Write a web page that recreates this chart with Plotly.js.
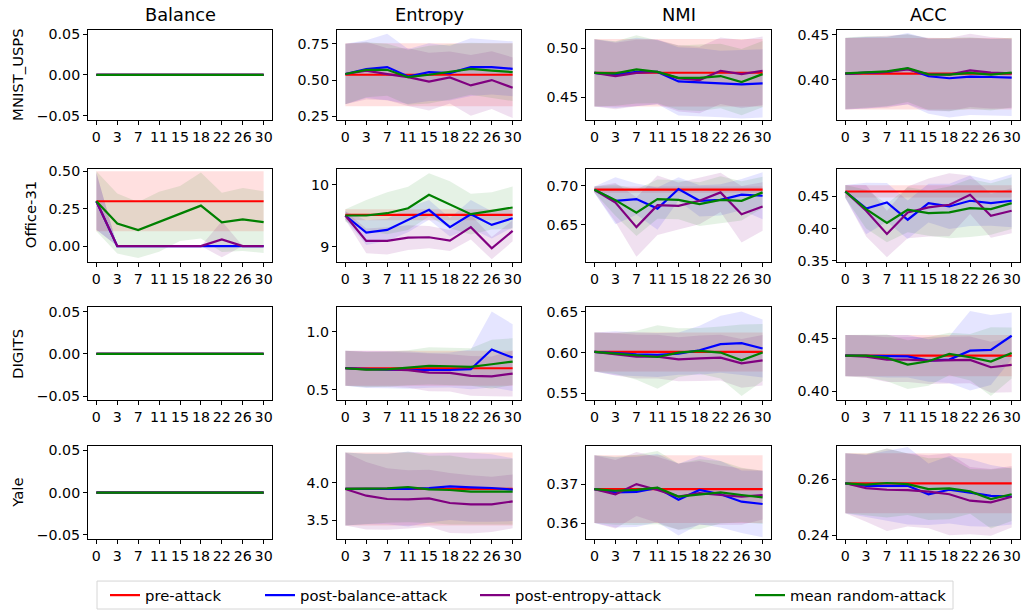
<!DOCTYPE html>
<html><head><meta charset="utf-8">
<script src="https://cdn.plot.ly/plotly-3.0.1.min.js"></script>
<style>html,body{margin:0;padding:0;background:#fff}#chart{width:1024px;height:612px}</style>
</head><body><div id="chart"></div>
<script>
// ---------------- data ----------------
const budgets = ['0','3','7','11','15','18','22','26','30'];
const datasets = ['MNIST_USPS','Office-31','DIGITS','Yale'];
const metrics = ['Balance','Entropy','NMI','ACC'];
const seriesNames = ['pre-attack','post-balance-attack','post-entropy-attack','mean random-attack'];
const seriesColors = ['red','blue','purple','green'];
const bandColors = ['rgba(255,0,0,0.12)','rgba(0,0,255,0.1)','rgba(128,0,128,0.12)','rgba(0,128,0,0.1)'];

// order of series in each array: [pre, balance-attack, entropy-attack, random]
const zeros9 = [0,0,0,0,0,0,0,0,0];

// MNIST_USPS
const MNIST_Balance_mean = [zeros9, zeros9, zeros9, zeros9];
const MNIST_Balance_std  = [zeros9, zeros9, zeros9, zeros9];
const MNIST_Entropy_mean = [
  [0.537,0.537,0.537,0.537,0.537,0.537,0.537,0.537,0.537],
  [0.542,0.576,0.59,0.525,0.555,0.548,0.59,0.59,0.578],
  [0.542,0.565,0.541,0.52,0.49,0.518,0.463,0.50,0.447],
  [0.542,0.571,0.571,0.52,0.537,0.555,0.578,0.565,0.555]];
const MNIST_Entropy_std = [
  [0.218,0.218,0.218,0.218,0.218,0.218,0.218,0.218,0.218],
  [0.21,0.20,0.23,0.19,0.20,0.19,0.20,0.19,0.19],
  [0.21,0.20,0.18,0.20,0.20,0.18,0.21,0.20,0.21],
  [0.21,0.19,0.18,0.19,0.20,0.19,0.18,0.19,0.20]];
const MNIST_NMI_mean = [
  [0.4752,0.4752,0.4752,0.4752,0.4752,0.4752,0.4752,0.4752,0.4752],
  [0.475,0.473,0.476,0.476,0.4663,0.4653,0.4636,0.4633,0.4643],
  [0.475,0.4718,0.475,0.476,0.4694,0.4677,0.4772,0.4738,0.4772],
  [0.475,0.4745,0.4786,0.476,0.470,0.470,0.4718,0.4656,0.4738]];
const MNIST_NMI_std = [
  [0.0345,0.0345,0.0345,0.0345,0.0345,0.0345,0.0345,0.0345,0.0345],
  [0.0345,0.034,0.035,0.033,0.035,0.035,0.034,0.035,0.035],
  [0.0345,0.034,0.034,0.033,0.034,0.034,0.034,0.035,0.035],
  [0.0345,0.033,0.035,0.032,0.033,0.034,0.033,0.034,0.034]];
const MNIST_ACC_mean = [
  [0.4066,0.4066,0.4066,0.4066,0.4066,0.4066,0.4066,0.4066,0.4066],
  [0.4066,0.4077,0.4085,0.4121,0.4037,0.4015,0.4033,0.4029,0.4022],
  [0.4066,0.4077,0.4085,0.4114,0.4059,0.4055,0.4103,0.4077,0.407],
  [0.407,0.4085,0.4092,0.4129,0.4059,0.4055,0.4074,0.4055,0.4077]];
const MNIST_ACC_std = [
  [0.040,0.040,0.040,0.040,0.040,0.040,0.040,0.040,0.040],
  [0.040,0.040,0.039,0.040,0.042,0.044,0.043,0.043,0.043],
  [0.040,0.040,0.040,0.039,0.041,0.041,0.041,0.040,0.039],
  [0.040,0.040,0.039,0.038,0.040,0.041,0.040,0.040,0.039]];

// Office-31
const Office_Balance_mean = [
  [0.299,0.299,0.299,0.299,0.299,0.299,0.299,0.299,0.299],
  [0.299,0,0,0,0,0,0,0,0],
  [0.299,0,0,0,0,0,0.045,0,0],
  [0.299,0.15,0.107,0.163,0.217,0.27,0.158,0.178,0.16]];
const Office_Balance_std = [
  [0.2,0.2,0.2,0.2,0.2,0.2,0.2,0.2,0.2],
  [0.19,0,0,0,0,0,0,0,0],
  [0.19,0,0,0,0,0,0.12,0,0],
  [0.2,0.2,0.187,0.2,0.183,0.22,0.197,0.21,0.206]];
const Office_Entropy_mean = [
  [9.514,9.514,9.514,9.514,9.514,9.514,9.514,9.514,9.514],
  [9.503,9.227,9.27,9.432,9.595,9.314,9.524,9.351,9.459],
  [9.503,9.092,9.092,9.146,9.151,9.097,9.314,8.973,9.254],
  [9.503,9.503,9.54,9.62,9.838,9.676,9.524,9.578,9.632]];
const Office_Entropy_std = [
  [0.09,0.09,0.09,0.09,0.09,0.09,0.09,0.09,0.09],
  [0.07,0.2,0.18,0.2,0.16,0.15,0.23,0.22,0.15],
  [0.07,0.2,0.22,0.2,0.18,0.17,0.2,0.18,0.17],
  [0.1,0.25,0.34,0.35,0.35,0.38,0.33,0.30,0.34]];
const Office_NMI_mean = [
  [0.6948,0.6948,0.6948,0.6948,0.6948,0.6948,0.6948,0.6948,0.6948],
  [0.6948,0.6806,0.6828,0.6707,0.6957,0.6806,0.6819,0.6884,0.6871],
  [0.6948,0.6784,0.647,0.675,0.6741,0.6806,0.6914,0.6634,0.6733],
  [0.6948,0.6815,0.6655,0.6828,0.6819,0.6763,0.6819,0.6806,0.6914]];
const Office_NMI_std = [
  [0.004,0.004,0.004,0.004,0.004,0.004,0.004,0.004,0.004],
  [0.004,0.03,0.02,0.027,0.015,0.02,0.02,0.02,0.03],
  [0.004,0.025,0.038,0.038,0.03,0.03,0.025,0.036,0.031],
  [0.004,0.02,0.03,0.025,0.025,0.028,0.03,0.025,0.02]];
const Office_ACC_mean = [
  [0.4577,0.4577,0.4577,0.4577,0.4577,0.4577,0.4577,0.4577,0.4577],
  [0.4577,0.4314,0.4407,0.4139,0.4397,0.4345,0.4433,0.4397,0.4433],
  [0.4577,0.4278,0.3918,0.4253,0.433,0.4371,0.4526,0.4201,0.4278],
  [0.4577,0.4304,0.4088,0.4294,0.4242,0.4253,0.432,0.4304,0.4397]];
const Office_ACC_std = [
  [0.0095,0.0095,0.0095,0.0095,0.0095,0.0095,0.0095,0.0095,0.0095],
  [0.01,0.04,0.03,0.03,0.03,0.035,0.039,0.035,0.041],
  [0.01,0.04,0.036,0.04,0.045,0.049,0.03,0.034,0.035],
  [0.01,0.03,0.03,0.035,0.035,0.04,0.045,0.04,0.04]];

// DIGITS
const DIGITS_Balance_mean = [zeros9, zeros9, zeros9, zeros9];
const DIGITS_Balance_std  = [zeros9, zeros9, zeros9, zeros9];
const DIGITS_Entropy_mean = [
  [0.686,0.686,0.686,0.686,0.686,0.686,0.686,0.686,0.686],
  [0.686,0.677,0.674,0.671,0.669,0.671,0.677,0.846,0.777],
  [0.686,0.677,0.677,0.669,0.649,0.646,0.62,0.617,0.64],
  [0.686,0.674,0.677,0.691,0.706,0.703,0.697,0.72,0.743]];
const DIGITS_Entropy_std = [
  [0.15,0.15,0.15,0.15,0.15,0.15,0.15,0.15,0.15],
  [0.15,0.16,0.16,0.16,0.15,0.15,0.17,0.325,0.286],
  [0.15,0.15,0.15,0.15,0.16,0.16,0.17,0.17,0.197],
  [0.15,0.15,0.15,0.15,0.16,0.16,0.16,0.21,0.2]];
const DIGITS_NMI_mean = [
  [0.6008,0.6008,0.6008,0.6008,0.6008,0.6008,0.6008,0.6008,0.6008],
  [0.6008,0.5992,0.5979,0.5971,0.5988,0.6029,0.6103,0.6116,0.605],
  [0.6008,0.5979,0.595,0.595,0.5917,0.593,0.5938,0.5868,0.5905],
  [0.6008,0.5988,0.5967,0.5946,0.60,0.6021,0.60,0.5905,0.60]];
const DIGITS_NMI_std = [
  [0.024,0.024,0.024,0.024,0.024,0.024,0.024,0.024,0.024],
  [0.024,0.027,0.027,0.027,0.026,0.03,0.035,0.039,0.0355],
  [0.024,0.026,0.027,0.027,0.027,0.028,0.028,0.03,0.031],
  [0.024,0.025,0.03,0.039,0.03,0.028,0.032,0.044,0.035]];
const DIGITS_ACC_mean = [
  [0.4334,0.4334,0.4334,0.4334,0.4334,0.4334,0.4334,0.4334,0.4334],
  [0.4334,0.4334,0.4328,0.4328,0.4288,0.4297,0.4381,0.4388,0.4522],
  [0.4334,0.4325,0.4297,0.4297,0.4288,0.4288,0.4294,0.4225,0.4247],
  [0.4334,0.4334,0.4313,0.425,0.4281,0.435,0.4319,0.4278,0.4359]];
const DIGITS_ACC_std = [
  [0.0195,0.0195,0.0195,0.0195,0.0195,0.0195,0.0195,0.0195,0.0195],
  [0.0195,0.0195,0.02,0.02,0.02,0.022,0.0375,0.033,0.022],
  [0.0195,0.02,0.021,0.021,0.022,0.022,0.022,0.024,0.0257],
  [0.0195,0.02,0.022,0.023,0.023,0.02,0.022,0.0325,0.024]];

// Yale
const Yale_Balance_mean = [zeros9, zeros9, zeros9, zeros9];
const Yale_Balance_std  = [zeros9, zeros9, zeros9, zeros9];
const Yale_Entropy_mean = [
  [3.92,3.92,3.92,3.92,3.92,3.92,3.92,3.92,3.92],
  [3.92,3.92,3.92,3.92,3.933,3.955,3.942,3.933,3.911],
  [3.92,3.83,3.786,3.781,3.795,3.732,3.714,3.714,3.754],
  [3.92,3.92,3.929,3.946,3.915,3.906,3.884,3.884,3.884]];
const Yale_Entropy_std = [
  [0.487,0.487,0.487,0.487,0.487,0.487,0.487,0.487,0.487],
  [0.487,0.47,0.47,0.5,0.46,0.45,0.46,0.45,0.42],
  [0.487,0.45,0.41,0.39,0.38,0.4,0.39,0.37,0.36],
  [0.487,0.47,0.46,0.47,0.45,0.46,0.44,0.44,0.44]];
const Yale_NMI_mean = [
  [0.3687,0.3687,0.3687,0.3687,0.3687,0.3687,0.3687,0.3687,0.3687],
  [0.3687,0.3679,0.368,0.369,0.366,0.3685,0.3674,0.3655,0.3649],
  [0.3687,0.3674,0.370,0.3685,0.3668,0.3677,0.3672,0.3668,0.3672],
  [0.3687,0.3683,0.3685,0.3691,0.3668,0.3674,0.3679,0.3672,0.3666]];
const Yale_NMI_std = [
  [0.0087,0.0087,0.0087,0.0087,0.0087,0.0087,0.0087,0.0087,0.0087],
  [0.0087,0.009,0.009,0.0088,0.0092,0.0088,0.0085,0.008,0.0085],
  [0.0087,0.0088,0.0082,0.0085,0.0085,0.0082,0.0076,0.0072,0.0063],
  [0.0087,0.0087,0.009,0.0094,0.0085,0.009,0.008,0.007,0.0068]];
const Yale_ACC_mean = [
  [0.2585,0.2585,0.2585,0.2585,0.2585,0.2585,0.2585,0.2585,0.2585],
  [0.2585,0.2576,0.2576,0.2576,0.2546,0.2562,0.2552,0.254,0.2538],
  [0.2585,0.2568,0.2562,0.2561,0.2555,0.2546,0.2523,0.2517,0.2537],
  [0.2585,0.258,0.2586,0.2582,0.2564,0.2567,0.2556,0.2529,0.2546]];
const Yale_ACC_std = [
  [0.0107,0.0107,0.0107,0.0107,0.0107,0.0107,0.0107,0.0107,0.0107],
  [0.0107,0.011,0.0125,0.0138,0.011,0.012,0.012,0.011,0.01],
  [0.0107,0.012,0.0147,0.013,0.013,0.0146,0.012,0.0119,0.011],
  [0.0107,0.011,0.0123,0.011,0.011,0.011,0.008,0.0105,0.0095]];

const panelMeans = [
  [MNIST_Balance_mean, MNIST_Entropy_mean, MNIST_NMI_mean, MNIST_ACC_mean],
  [Office_Balance_mean, Office_Entropy_mean, Office_NMI_mean, Office_ACC_mean],
  [DIGITS_Balance_mean, DIGITS_Entropy_mean, DIGITS_NMI_mean, DIGITS_ACC_mean],
  [Yale_Balance_mean, Yale_Entropy_mean, Yale_NMI_mean, Yale_ACC_mean]];
const panelStds = [
  [MNIST_Balance_std, MNIST_Entropy_std, MNIST_NMI_std, MNIST_ACC_std],
  [Office_Balance_std, Office_Entropy_std, Office_NMI_std, Office_ACC_std],
  [DIGITS_Balance_std, DIGITS_Entropy_std, DIGITS_NMI_std, DIGITS_ACC_std],
  [Yale_Balance_std, Yale_Entropy_std, Yale_NMI_std, Yale_ACC_std]];

// ---------------- layout settings ----------------
const W = 1024, H = 612;
const colPx = [[88,272],[337,521],[586,771],[837,1020]];
const rowPx = [[30,120],[169,262],[308,401],[447,540]];
const rowLabelX = [18, 30, 18, 18];
const yRanges = [
  [[-0.055,0.055],[0.225,0.847],[0.427,0.519],[0.355,0.4555]],
  [[-0.103,0.516],[8.757,10.26],[0.603,0.7216],[0.349,0.493]],
  [[-0.055,0.055],[0.411,1.206],[0.5413,0.6554],[0.3913,0.4788]],
  [[-0.055,0.055],[3.25,4.49],[0.3559,0.3797],[0.2386,0.2717]]];
const yTicks = [
  [[0.05,'.2f'],[0.25,'.2f'],[0.05,'.2f'],[0.05,'.2f']],
  [[0.25,'.2f'],[1,'d'],[0.05,'.2f'],[0.05,'.2f']],
  [[0.05,'.2f'],[0.5,'.1f'],[0.05,'.2f'],[0.05,'.2f']],
  [[0.05,'.2f'],[0.5,'.1f'],[0.01,'.2f'],[0.02,'.2f']]];
const legendTextPx = [145, 300, 515, 790];

const FONT = 'DejaVu Sans, Arial, sans-serif';
const tickFont = {family: FONT, size: 14.2, color: '#000'};

const traces = [];
const layout = {
  width: W, height: H,
  margin: {l:0, r:0, t:0, b:0},
  paper_bgcolor: '#fff', plot_bgcolor: '#fff',
  font: {family: FONT, color: '#000'},
  annotations: [], shapes: []
};

const xpoly = budgets.concat(budgets.slice().reverse());

for (let r = 0; r < 4; r++) {
  for (let c = 0; c < 4; c++) {
    const k = r * 4 + c;
    const sfx = k === 0 ? '' : String(k + 1);
    const xa = 'x' + sfx, ya = 'y' + sfx;
    const means = panelMeans[r][c], stds = panelStds[r][c];
    // bands
    for (let s = 0; s < 4; s++) {
      if (stds[s].every(v => v === 0)) continue;
      const up = means[s].map((v, i) => v + stds[s][i]);
      const lo = means[s].map((v, i) => v - stds[s][i]);
      traces.push({
        type: 'scatter', mode: 'lines', x: xpoly, y: up.concat(lo.slice().reverse()),
        xaxis: xa, yaxis: ya, fill: 'toself', fillcolor: bandColors[s],
        line: {width: 0, color: 'rgba(0,0,0,0)'}, hoverinfo: 'skip', showlegend: false
      });
    }
    // lines
    for (let s = 0; s < 4; s++) {
      const tr = {
        type: 'scatter', mode: 'lines', x: budgets, y: means[s],
        xaxis: xa, yaxis: ya, name: seriesNames[s],
        line: {color: seriesColors[s], width: 2.2},
        showlegend: k === 0
      };
      if (k === 0) tr.legend = s === 0 ? 'legend' : 'legend' + (s + 1);
      traces.push(tr);
    }
    layout['xaxis' + sfx] = {
      domain: [colPx[c][0] / W, colPx[c][1] / W], anchor: ya,
      type: 'category', range: [-0.4, 8.4],
      tickmode: 'array', tickvals: budgets, ticktext: budgets, tickangle: 0,
      showline: true, mirror: true, linecolor: '#000', linewidth: 1,
      ticks: 'outside', ticklen: 4, tickwidth: 1, tickcolor: '#000',
      showgrid: false, zeroline: false, tickfont: tickFont, fixedrange: true
    };
    layout['yaxis' + sfx] = {
      domain: [1 - rowPx[r][1] / H, 1 - rowPx[r][0] / H], anchor: xa,
      range: yRanges[r][c], dtick: yTicks[r][c][0], tick0: 0, tickformat: yTicks[r][c][1],
      showline: true, mirror: true, linecolor: '#000', linewidth: 1,
      ticks: 'outside', ticklen: 4, tickwidth: 1, tickcolor: '#000',
      showgrid: false, zeroline: false, tickfont: tickFont, fixedrange: true
    };
  }
}

// column titles
for (let c = 0; c < 4; c++) {
  layout.annotations.push({
    text: metrics[c], xref: 'paper', yref: 'paper',
    x: (colPx[c][0] + colPx[c][1]) / 2 / W, y: 1 - rowPx[0][0] / H,
    xanchor: 'center', yanchor: 'bottom', yshift: 3, showarrow: false,
    font: {family: FONT, size: 17.8, color: '#000'}
  });
}
// row labels
for (let r = 0; r < 4; r++) {
  layout.annotations.push({
    text: datasets[r], xref: 'paper', yref: 'paper',
    x: rowLabelX[r] / W, y: 1 - (rowPx[r][0] + rowPx[r][1]) / 2 / H,
    xanchor: 'center', yanchor: 'middle', textangle: -90, showarrow: false,
    font: {family: FONT, size: 14.8, color: '#000'}
  });
}
// legends
for (let s = 0; s < 4; s++) {
  const key = s === 0 ? 'legend' : 'legend' + (s + 1);
  layout[key] = {
    x: (legendTextPx[s] - 40) / W, y: 1 - 596 / H, xanchor: 'left', yanchor: 'middle',
    orientation: 'h', bgcolor: 'rgba(0,0,0,0)', borderwidth: 0,
    font: {family: FONT, size: 14.8, color: '#000'}
  };
}
layout.shapes.push({
  type: 'rect', xref: 'paper', yref: 'paper',
  x0: 97 / W, x1: 953 / W, y0: 1 - 610 / H, y1: 1 - 582 / H,
  line: {color: '#d6d6d6', width: 1}, fillcolor: 'rgba(255,255,255,0.8)', layer: 'below'
});

Plotly.newPlot('chart', traces, layout, {staticPlot: true, displayModeBar: false});
</script>
</body></html>
